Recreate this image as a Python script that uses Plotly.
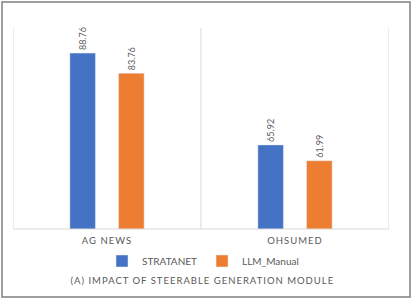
import plotly.graph_objects as go

categories = ["AG NEWS", "OHSUMED"]
stratanet = [88.76, 65.92]
llm_manual = [83.76, 61.99]
series_names = ["STRATANET", "LLM_Manual"]
title_text = "(A) IMPACT OF STEERABLE GENERATION MODULE"

W, H = 415, 300
L, R, T, B = 13, 26, 28, 71
pw, ph = W - L - R, H - T - B

FONT = "Lato, 'Open Sans', sans-serif"
GRAY = "#595959"

fig = go.Figure()
fig.add_bar(x=categories, y=stratanet, name=series_names[0], marker_color="#4472C4",
            text=[f"{v:.2f}" for v in stratanet], textposition="outside", textangle=-90,
            textfont=dict(size=9, color=GRAY, family=FONT), cliponaxis=False)
fig.add_bar(x=categories, y=llm_manual, name=series_names[1], marker_color="#ED7D31",
            text=[f"{v:.2f}" for v in llm_manual], textposition="outside", textangle=-90,
            textfont=dict(size=9, color=GRAY, family=FONT), cliponaxis=False)

shapes = []
for xv in [-0.5, 0.5, 1.5]:
    shapes.append(dict(type="line", xref="x", yref="paper", x0=xv, x1=xv, y0=0, y1=1,
                       line=dict(color="#D9D9D9", width=1)))
shapes.append(dict(type="line", xref="paper", yref="paper", x0=0, x1=1, y0=0, y1=0,
                   line=dict(color="#D9D9D9", width=1)))
shapes.append(dict(type="rect", xref="paper", yref="paper",
                   x0=(2 - L) / pw, x1=(410 - L) / pw, y0=(T + ph - 297) / ph, y1=(T + ph - 2) / ph,
                   line=dict(color="#7F7F7F", width=1.5), fillcolor="rgba(0,0,0,0)", layer="below"))

fig.update_layout(
    width=W, height=H,
    margin=dict(l=L, r=R, t=T, b=B),
    paper_bgcolor="white", plot_bgcolor="white",
    barmode="group", bargap=0.482, bargroupgap=0.475,
    font=dict(family=FONT, color=GRAY, size=10),
    showlegend=True,
    legend=dict(orientation="h", x=(203 - L) / pw, xanchor="center", y=(T + ph - 261) / ph,
                yanchor="middle", font=dict(size=10, color=GRAY, family=FONT), itemwidth=30,
                tracegroupgap=0),
    xaxis=dict(range=[-0.5, 1.5], showgrid=False, showline=False, ticks="", zeroline=False,
               ticklabelstandoff=4, tickfont=dict(size=9.5, color=GRAY, family=FONT)),
    yaxis=dict(range=[45, 95], showgrid=False, showticklabels=False, zeroline=False, showline=False),
    shapes=shapes,
    annotations=[dict(text=title_text, xref="paper", yref="paper", x=(202 - L) / pw,
                      y=(T + ph - 280) / ph, xanchor="center", yanchor="middle", showarrow=False,
                      font=dict(size=9.5, color=GRAY, family=FONT))],
)

post = """
document.body.style.margin = '0';
document.body.style.padding = '0';
document.querySelectorAll('.xtick text, .annotation-text').forEach(function(t){
  t.style.letterSpacing = '1px';
});
"""
fig.write_html("out.html", post_script=post, config={"displayModeBar": False})
